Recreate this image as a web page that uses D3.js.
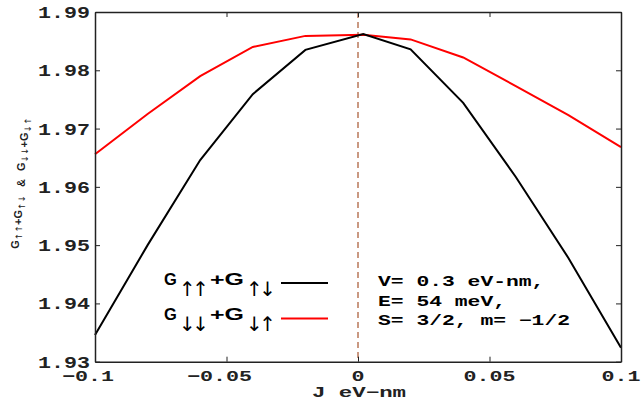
<!DOCTYPE html>
<html>
<head>
<meta charset="utf-8">
<script src="https://cdn.jsdelivr.net/npm/d3@7"></script>
<style>
    body { margin: 0; background: #fff; }
    .mono { font-family: "Liberation Mono", "Courier New", monospace; font-weight: bold; }
    .sans { font-family: "Liberation Sans", Arial, sans-serif; font-weight: bold; }
    .arrow { font-family: "DejaVu Sans", sans-serif; font-weight: normal; }
</style>
</head>
<body>
<svg id="chart" width="641" height="401"></svg>
<script>
// J values (eV-nm)
let jValues = [-0.1, -0.08, -0.06, -0.04, -0.02, 0.002, 0.02, 0.04, 0.06, 0.08, 0.1];
// G(up,up)+G(up,down)
let gUp = [1.9346, 1.9500, 1.9646, 1.9759, 1.9835, 1.9862, 1.9836, 1.9744, 1.9617, 1.9478, 1.9324];
// G(down,down)+G(down,up)
let gDown = [1.9656, 1.9725, 1.9790, 1.9840, 1.9859, 1.9861, 1.9853, 1.9822, 1.9773, 1.9723, 1.9668];

let xTicks = [-0.1, -0.05, 0, 0.05, 0.1];
let yTicks = [1.93, 1.94, 1.95, 1.96, 1.97, 1.98, 1.99];
let infoLines = ["V= 0.3 eV-nm,", "E= 54 meV,", "S= 3/2, m= \u22121/2"];

let svg = d3.select("#chart");
let plotLeft = 95, plotRight = 621, plotTop = 12, plotBottom = 361.7;
let charW = 13;

let x = d3.scaleLinear().domain([-0.1, 0.1]).range([plotLeft, plotRight]);
let y = d3.scaleLinear().domain([1.93, 1.99]).range([plotBottom, plotTop]);

function fmt(v) {
    return String(v).replace("-", "\u2212");
}

// dashed line at J = 0
svg.append("line")
    .attr("x1", x(0)).attr("x2", x(0))
    .attr("y1", y(1.99)).attr("y2", y(1.93))
    .attr("stroke", "#b9785a")
    .attr("stroke-width", 1.5)
    .attr("stroke-dasharray", "6 4");

let line = d3.line()
    .x((d, i) => x(jValues[i]))
    .y(d => y(d));

svg.append("path").datum(gDown)
    .attr("d", line)
    .attr("fill", "none")
    .attr("stroke", "#ff0000")
    .attr("stroke-width", 2);

svg.append("path").datum(gUp)
    .attr("d", line)
    .attr("fill", "none")
    .attr("stroke", "#000")
    .attr("stroke-width", 2);

// axes box with inward ticks
let tickLen = 5;
let axB = svg.append("g").attr("transform", "translate(0," + plotBottom + ")")
    .call(d3.axisBottom(x).tickValues(xTicks).tickSizeInner(-tickLen).tickSizeOuter(0).tickFormat(""));
let axT = svg.append("g").attr("transform", "translate(0," + plotTop + ")")
    .call(d3.axisTop(x).tickValues(xTicks).tickSizeInner(-tickLen).tickSizeOuter(0).tickFormat(""));
let axL = svg.append("g").attr("transform", "translate(" + plotLeft + ",0)")
    .call(d3.axisLeft(y).tickValues(yTicks).tickSizeInner(-tickLen).tickSizeOuter(0).tickFormat(""));
let axR = svg.append("g").attr("transform", "translate(" + plotRight + ",0)")
    .call(d3.axisRight(y).tickValues(yTicks).tickSizeInner(-tickLen).tickSizeOuter(0).tickFormat(""));
[axB, axT, axL, axR].forEach(function (g) {
    g.select(".domain").attr("stroke", "#222").attr("stroke-width", 1.5);
    g.selectAll(".tick line").attr("stroke", "#222").attr("stroke-width", 1);
});

// tick labels
svg.append("g").selectAll("text")
    .data(yTicks)
    .enter()
    .append("text")
    .attr("class", "mono")
    .attr("font-size", 16)
    .attr("x", 90)
    .attr("y", d => y(d) + 6)
    .attr("text-anchor", "end")
    .attr("textLength", d => d.toFixed(2).length * charW)
    .attr("lengthAdjust", "spacingAndGlyphs")
    .attr("fill", "#222")
    .text(d => d.toFixed(2));

svg.append("g").selectAll("text")
    .data(xTicks)
    .enter()
    .append("text")
    .attr("class", "mono")
    .attr("font-size", 15)
    .attr("x", d => x(d) - (d < 0 ? 7 : 0))
    .attr("y", 380.5)
    .attr("text-anchor", "middle")
    .attr("textLength", d => fmt(d).length * charW)
    .attr("lengthAdjust", "spacingAndGlyphs")
    .attr("fill", "#222")
    .text(d => fmt(d));

// x axis title
svg.append("text")
    .attr("class", "mono")
    .attr("font-size", 14)
    .attr("x", 359)
    .attr("y", 397)
    .attr("text-anchor", "middle")
    .attr("textLength", 94)
    .attr("lengthAdjust", "spacingAndGlyphs")
    .attr("fill", "#222")
    .text("J eV\u2212nm");

// y axis title (rotated)
let yt = svg.append("text")
    .attr("class", "sans")
    .attr("font-size", 11)
    .attr("text-anchor", "middle")
    .attr("transform", "translate(18.5,183) rotate(-90)")
    .attr("fill", "#222");
function addPart(t, txt, sub, gap) {
    t.append("tspan").attr("dx", gap || 0).text(txt);
    t.append("tspan").attr("class", "arrow").attr("font-size", 9)
        .attr("dy", 3).text(sub);
    t.append("tspan").attr("dy", -3).text("");
}
addPart(yt, "G", "\u2191\u2191");
addPart(yt, "+G", "\u2191\u2193");
yt.append("tspan").attr("dx", 8).text("&");
addPart(yt, "G", "\u2193\u2193", 8);
addPart(yt, "+G", "\u2193\u2191");

// legend
let legendRows = [
    {name: ["G", "\u2191\u2191", "+G", "\u2191\u2193"], color: "#000", y: 284.5},
    {name: ["G", "\u2193\u2193", "+G", "\u2193\u2191"], color: "#ff0000", y: 320}
];
legendRows.forEach(function (r) {
    let g = svg.append("g").attr("class", "sans").attr("fill", "#000");
    g.append("text").attr("x", 164).attr("y", r.y).attr("font-size", 16.5).text(r.name[0]);
    g.append("text").attr("class", "arrow").attr("font-size", 20)
        .attr("x", 179).attr("y", r.y + 11)
        .attr("letter-spacing", -3.5)
        .text(r.name[1]);
    g.append("text").attr("x", 210).attr("y", r.y).attr("font-size", 16.5)
        .attr("textLength", 34).attr("lengthAdjust", "spacingAndGlyphs")
        .text(r.name[2]);
    g.append("text").attr("class", "arrow").attr("font-size", 20)
        .attr("x", 246).attr("y", r.y + 11)
        .attr("letter-spacing", -3.5)
        .text(r.name[3]);
    svg.append("line")
        .attr("x1", 281).attr("x2", 328)
        .attr("y1", r.y - 1.5).attr("y2", r.y - 1.5)
        .attr("stroke", r.color)
        .attr("stroke-width", 2);
});

// parameter text
svg.append("g").selectAll("text")
    .data(infoLines)
    .enter()
    .append("text")
    .attr("class", "mono")
    .attr("font-size", 14)
    .attr("x", 378)
    .attr("y", (d, i) => 286 + i * 19.5)
    .attr("textLength", d => d.length * 12.8)
    .attr("lengthAdjust", "spacingAndGlyphs")
    .attr("fill", "#000")
    .text(d => d);
</script>
</body>
</html>
